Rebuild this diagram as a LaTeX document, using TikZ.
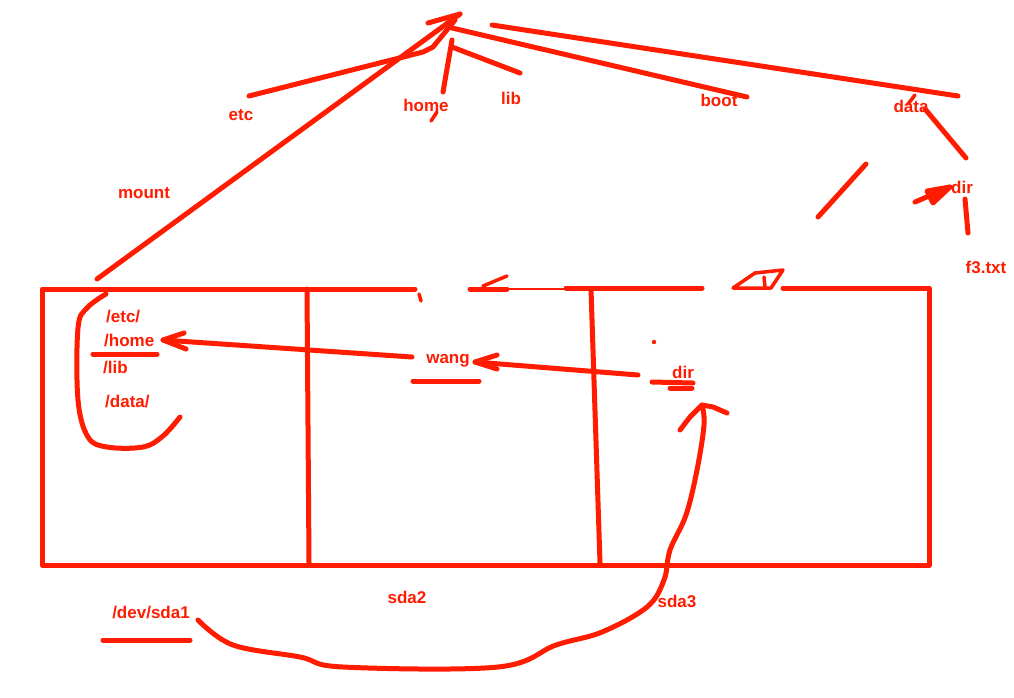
\documentclass[tikz,border=0pt]{standalone}
\usepackage{fontspec}
\setmainfont{Liberation Sans}
\definecolor{pen}{RGB}{255,28,0}
\tikzset{
  stroke/.style={draw=pen, line width=5pt, line cap=round, line join=round},
  fine/.style={draw=pen, line width=3.5pt, line cap=round, line join=round},
  lbl/.style={text=pen, font=\bfseries\fontsize{17}{19}\selectfont, inner sep=0pt},
}
\begin{document}
\begin{tikzpicture}[x=1pt,y=-1pt]
\useasboundingbox[fill=white] (0,0) rectangle (1014,697);

% ---------- labels ----------
\node[lbl] (etc)   at (241,115) {etc};
\node[lbl] (home)  at (426,105) {home};
\node[lbl] (lib)   at (511,98)  {lib};
\node[lbl] (boot)  at (719,100) {boot};
\node[lbl] (data)  at (911,106) {data};
\node[lbl] (dir)   at (962,187) {dir};
\node[lbl] (f3)    at (986,267) {f3.txt};
\node[lbl] (mount) at (144,193) {mount};
\node[lbl,anchor=west] (setc)  at (106,317) {/etc/};
\node[lbl,anchor=west] (shome) at (104,341) {/home};
\node[lbl,anchor=west] (slib)  at (103,368) {/lib};
\node[lbl,anchor=west] (sdata) at (105,402) {/data/};
\node[lbl] (wang)  at (448,361) {wang};
\node[lbl] (dirb)  at (683,372) {dir};
\node[lbl] (sda1)  at (151,612) {/dev/sda1};
\node[lbl] (sda2)  at (407,597) {sda2};
\node[lbl] (sda3)  at (677,601) {sda3};

% ---------- tree ----------
\coordinate (root) at (460,14);
\coordinate (mstart) at (97,279);
\draw[stroke] (mstart) -- (root);
\draw[stroke] (428,23) -- (root);
\draw[stroke] (249,96) -- (423,52) -- (433,47) -- (455,20);
\draw[stroke] (443,92) -- (452,40);
\draw[stroke] (452,47) -- (520,73);
\draw[stroke] (452,28) -- (747,97);
\draw[stroke] (492,25) -- (958,96);
\draw[fine] (908,104) -- (915,95);
\draw[fine] (431,121) -- (437,112);
\draw[stroke] (925,109) -- (966,158);
\draw[stroke] (965,199) -- (968,233);
\draw[stroke] (915,202) -- (950,187);
\draw[stroke,fill=pen] (927,191) -- (950,187) -- (933,203) -- cycle;
\draw[stroke] (818,217) -- (866,164);

% ---------- disk box ----------
\draw[stroke] (415,289) -- (42,289) -- (42,565) -- (929,565) -- (929,288) -- (783,288);
\draw[stroke] (470,289) -- (507,289);
\draw[draw=pen, line width=2pt] (507,289) -- (566,289);
\draw[stroke] (566,288) -- (702,288);
\draw[fine] (733,288) -- (755,273) -- (783,270) -- (771,288) -- cycle;
\draw[fine] (764,277) -- (765,287);
\draw[fine] (483,286) -- (507,276);
\draw[fine] (419,294) -- (421,301);
\draw[stroke] (307,289) -- (309,563);
\draw[stroke] (591,289) -- (600,563);

% ---------- inside sda1 ----------
\draw[stroke] (93,354) -- (157,354);
\draw[stroke] plot[smooth, tension=0.6] coordinates
  {(106,294) (87,308) (78,328) (78,400) (88,437) (107,447) (143,447) (163,436) (180,417)};

% wang -> /home
\draw[stroke] (412,357) -- (163,340);
\draw[stroke] (184,333) -- (163,340) -- (186,349);
\draw[stroke] (413,381) -- (479,381);

% dir -> wang
\draw[stroke] (638,375) -- (475,362);
\draw[stroke] (497,355) -- (475,362) -- (497,369);
\fill[pen] (654,342) circle (2.2pt);
\draw[stroke] (652,382) -- (693,383);
\draw[stroke] (670,388) -- (692,388);

% sda1 -> dir curve
\draw[stroke] (103,640) -- (190,640);
\draw[stroke] plot[smooth, tension=0.6] coordinates
  {(198,620) (233,645) (300,657) (343,667) (498,667) (556,645) (602,632)
   (647,607) (664,580) (670,550) (686,515) (697,470) (704,425) (702,405)};
\draw[stroke] (680,430) -- (690,417) -- (702,405) -- (713,407) -- (727,413);
\end{tikzpicture}
\end{document}
